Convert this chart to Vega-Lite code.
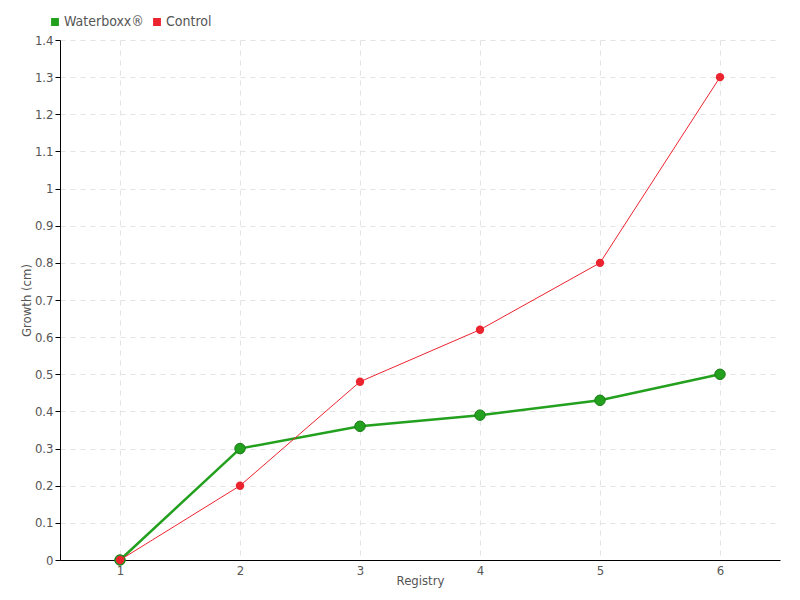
{
  "$schema": "https://vega.github.io/schema/vega-lite/v6.json",
  "width": 720,
  "height": 520,
  "autosize": {"type": "none"},
  "padding": {"left": 60, "top": 40, "right": 20, "bottom": 40},
  "background": "white",
  "config": {
    "view": {"stroke": null},
    "font": "DejaVu Sans Condensed",
    "axis": {"labelFont": "DejaVu Sans Condensed", "titleFont": "DejaVu Sans Condensed", "labelColor": "#555", "titleColor": "#555", "labelFontSize": 13, "titleFontSize": 13, "titleFontWeight": "normal", "gridColor": "#e3e3e3", "gridDash": [5, 5], "domainColor": "#000"},
    "legend": {"labelFont": "DejaVu Sans Condensed", "labelColor": "#555", "labelFontSize": 14}
  },
  "data": {
    "values": [
      {"registry": "1", "series": "Waterboxx®", "growth": 0},
      {"registry": "2", "series": "Waterboxx®", "growth": 0.30},
      {"registry": "3", "series": "Waterboxx®", "growth": 0.36},
      {"registry": "4", "series": "Waterboxx®", "growth": 0.39},
      {"registry": "5", "series": "Waterboxx®", "growth": 0.43},
      {"registry": "6", "series": "Waterboxx®", "growth": 0.50},
      {"registry": "1", "series": "Control", "growth": 0},
      {"registry": "2", "series": "Control", "growth": 0.20},
      {"registry": "3", "series": "Control", "growth": 0.48},
      {"registry": "4", "series": "Control", "growth": 0.62},
      {"registry": "5", "series": "Control", "growth": 0.80},
      {"registry": "6", "series": "Control", "growth": 1.30}
    ]
  },
  "encoding": {
    "x": {"field": "registry", "type": "ordinal", "scale": {"type": "point", "padding": 0.5}, "axis": {"title": "Registry", "labelAngle": 0, "ticks": false, "labelPadding": 4, "titlePadding": -3, "grid": true}},
    "y": {"field": "growth", "type": "quantitative", "scale": {"domain": [0, 1.4], "nice": false}, "axis": {"title": "Growth (cm)", "values": [0,0.1,0.2,0.3,0.4,0.5,0.6,0.7,0.8,0.9,1,1.1,1.2,1.3,1.4], "format": ".2~f", "tickColor": "#000", "tickSize": 5, "titlePadding": 1, "grid": true}},
    "color": {"field": "series", "type": "nominal", "sort": ["Waterboxx®", "Control"], "scale": {"domain": ["Waterboxx®", "Control"], "range": ["#22a01e", "#ec2430"]}, "legend": {"title": null, "orient": "none", "legendX": -12, "legendY": -25, "direction": "horizontal", "symbolType": "square", "symbolSize": 40, "columnPadding": 6, "labelOffset": 2}}
  },
  "layer": [
    {"transform": [{"filter": "datum.series === 'Waterboxx®'"}], "mark": {"type": "line", "strokeWidth": 2.5}},
    {"transform": [{"filter": "datum.series === 'Waterboxx®'"}], "mark": {"type": "point", "filled": true, "size": 110, "opacity": 1, "stroke": "#1a7a16", "strokeWidth": 1}},
    {"transform": [{"filter": "datum.series === 'Control'"}], "mark": {"type": "line", "strokeWidth": 1}},
    {"transform": [{"filter": "datum.series === 'Control'"}], "mark": {"type": "point", "filled": true, "size": 70, "opacity": 1}}
  ]
}
